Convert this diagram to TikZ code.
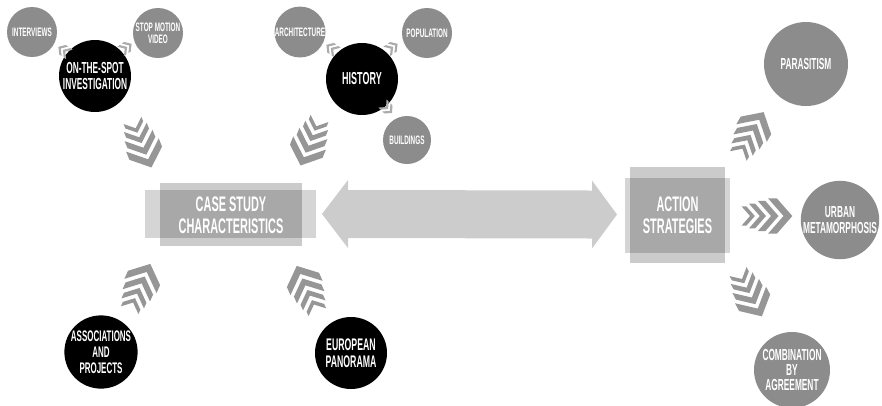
\documentclass[tikz,border=0pt]{standalone}
\usepackage{fontspec}
\newfontfamily\cond{Liberation Sans}[FakeStretch=0.52]
\usetikzlibrary{calc}
\definecolor{circgray}{HTML}{8C8C8C}
\definecolor{chevgray}{HTML}{969696}
\definecolor{smallgray}{HTML}{ABABAB}
\definecolor{arrowgray}{HTML}{CCCCCC}
\definecolor{boxtall}{HTML}{CBCBCB}
\definecolor{boxwide}{HTML}{D5D5D5}
\definecolor{boxcore}{HTML}{A8A8A8}
\tikzset{
  blk/.style={circle, fill=black, text=white, minimum size=54pt, inner sep=0pt, align=center,
    font=\cond\bfseries\fontsize{12}{11.5}\selectfont},
  sgry/.style={circle, fill=circgray, text=white, minimum size=37.5pt, inner sep=0pt, align=center,
    font=\cond\bfseries\fontsize{9.2}{9}\selectfont},
  lgry/.style={circle, fill=circgray, text=white, minimum size=57pt, inner sep=0pt, align=center,
    font=\cond\bfseries\fontsize{12}{11.5}\selectfont},
  boxtext/.style={text=white, align=center, inner sep=0pt,
    font=\cond\bfseries\fontsize{15.8}{16.5}\selectfont},
  plate/.style={inner sep=0pt, outer sep=0pt},
  bigchev/.pic={
    \foreach \sh/\s in {-17/0.6,-7.2/0.77,4/0.94,16.5/1.1}{
      \begin{scope}[shift={(\sh,0)}, scale=\s]
        \fill[chevgray] (-14,-16) -- (0,0) -- (-14,16) -- (-6,16) -- (8,0) -- (-6,-16) -- cycle;
      \end{scope}}
  },
  smallchev/.pic={
    \foreach \i in {0,1}{
      \begin{scope}[shift={(\i*5.5-2.75,0)}, scale=0.36]
        \fill[smallgray] (-14,-16) -- (0,0) -- (-14,16) -- (-6,16) -- (8,0) -- (-6,-16) -- cycle;
      \end{scope}}
  }
}
\begin{document}
\begin{tikzpicture}[x=0.75pt,y=-0.75pt]
\useasboundingbox (0,0) rectangle (882,405);

% left cluster
\node[blk] (spot) at (95,76) {ON-THE-SPOT\\INVESTIGATION};
\node[sgry] (interv) at (32,32) {INTERVIEWS};
\node[sgry] (stop) at (158,33) {STOP MOTION\\VIDEO};
\pic[rotate=145] at (63,50) {smallchev};
\pic[rotate=35] at (127,47) {smallchev};

% history cluster
\node[blk, font=\cond\bfseries\fontsize{13}{12}\selectfont] (hist) at (362,79) {HISTORY};
\node[sgry] (arch) at (300,32) {ARCHITECTURE};
\node[sgry] (pop) at (427,33) {POPULATION};
\node[sgry, minimum size=36pt] (build) at (407,140) {BUILDINGS};
\pic[rotate=145] at (331,48) {smallchev};
\pic[rotate=35] at (393,47) {smallchev};
\pic[rotate=-45] at (388,109) {smallchev};

% case study box
\node[plate, fill=boxwide, minimum width=128.25pt, minimum height=36pt] (casew) at (230.5,214) {};
\node[plate, fill=boxtall, minimum width=106.5pt, minimum height=47.25pt] (caset) at (231,214.5) {};
\node[plate, fill=boxcore, minimum width=106.5pt, minimum height=36pt] (casec) at (231,214) {};
\node[boxtext] (case) at (231,215) {CASE STUDY\\CHARACTERISTICS};

% bottom left
\node[blk, font=\cond\bfseries\fontsize{11.5}{11.8}\selectfont] (assoc) at (101,352) {ASSOCIATIONS\\AND\\PROJECTS};
\node[blk, font=\cond\bfseries\fontsize{12.6}{12.5}\selectfont] (euro) at (351,353) {EUROPEAN\\PANORAMA};

% chevrons to case study
\pic[rotate=-68] at (142,144) {bigchev};
\pic[rotate=-112] at (310,142) {bigchev};
\pic[rotate=66] at (140,287) {bigchev};
\pic[rotate=114] at (307,289) {bigchev};

% action strategies box
\node[plate, fill=boxwide, minimum width=78.75pt, minimum height=56.25pt] (actw) at (677.5,215.5) {};
\node[plate, fill=boxtall, minimum width=71.25pt, minimum height=72pt] (actt) at (677.5,215) {};
\node[plate, fill=boxcore, minimum width=71.25pt, minimum height=56.25pt] (actc) at (677.5,215.5) {};
\node[boxtext] (act) at (677.5,215) {ACTION\\STRATEGIES};

% double arrow
\coordinate (aL) at ($(casew.east)+(6,0)$);
\coordinate (aR) at ($(actw.west)+(-8,-1)$);
\fill[arrowgray] (aL) -- ($(aL)+(26,-34)$) -- ($(aL)+(26,-24)$) -- ($(aR)+(-25,-24)$) -- ($(aR)+(-25,-34)$)
  -- (aR) -- ($(aR)+(-25,34)$) -- ($(aR)+(-25,24)$) -- ($(aL)+(26,24)$) -- ($(aL)+(26,34)$) -- cycle;

% right circles
\node[lgry, minimum size=63pt] (para) at (806,64) {PARASITISM};
\node[lgry] (urban) at (840,220) {URBAN\\METAMORPHOSIS};
\node[lgry] (comb) at (792,370) {COMBINATION\\BY\\AGREEMENT};
\pic[rotate=60] at (751,134) {bigchev};
\pic[rotate=0] at (767,216) {bigchev};
\pic[rotate=-62] at (750,294) {bigchev};
\end{tikzpicture}
\end{document}
